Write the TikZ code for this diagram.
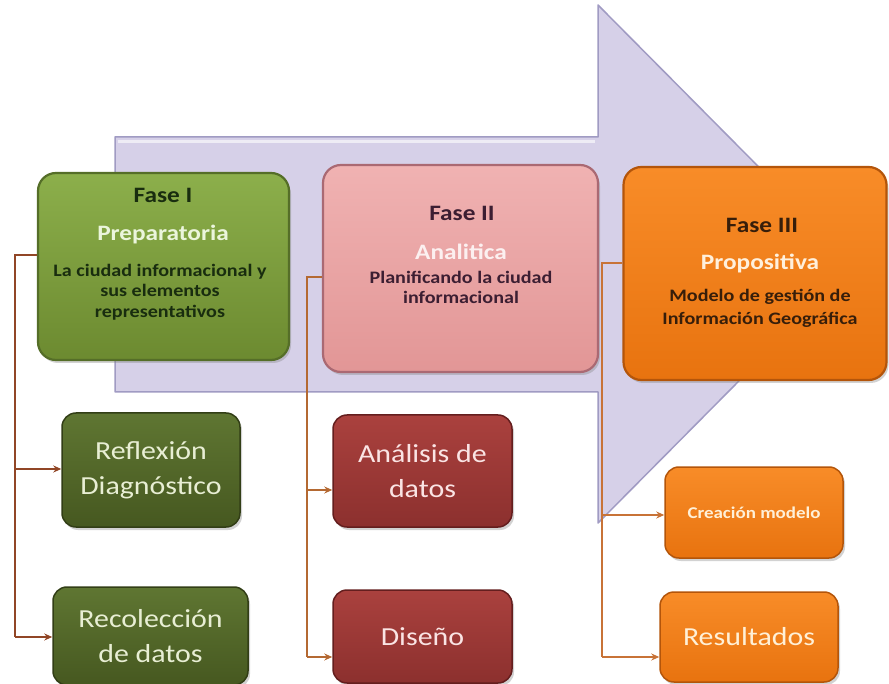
\documentclass[tikz,border=0pt]{standalone}
\usepackage{fontspec}
\setmainfont{Carlito}[FakeStretch=1.15]
\usetikzlibrary{shadows,arrows.meta}
\definecolor{arrowfill}{RGB}{214,208,232}
\definecolor{arrowedge}{RGB}{160,155,195}
\definecolor{gtop}{RGB}{140,175,75}
\definecolor{gbot}{RGB}{108,138,48}
\definecolor{gedge}{RGB}{85,110,40}
\definecolor{ptop}{RGB}{240,178,178}
\definecolor{pbot}{RGB}{226,150,150}
\definecolor{pedge}{RGB}{170,105,115}
\definecolor{otop}{RGB}{248,140,40}
\definecolor{obot}{RGB}{232,115,15}
\definecolor{oedge}{RGB}{180,85,10}
\definecolor{sgtop}{RGB}{95,118,50}
\definecolor{sgbot}{RGB}{70,88,32}
\definecolor{sgedge}{RGB}{50,62,22}
\definecolor{srtop}{RGB}{170,65,62}
\definecolor{srbot}{RGB}{140,48,46}
\definecolor{sredge}{RGB}{100,30,30}
\definecolor{connA}{RGB}{145,70,38}
\definecolor{connB}{RGB}{180,105,50}
\definecolor{connC}{RGB}{200,115,55}
\definecolor{tAdark}{RGB}{25,45,15}
\definecolor{tAlight}{RGB}{235,245,220}
\definecolor{tBdark}{RGB}{60,30,50}
\definecolor{tBlight}{RGB}{252,240,240}
\definecolor{tCdark}{RGB}{55,30,10}
\definecolor{tClight}{RGB}{255,240,220}
\definecolor{sgtext}{RGB}{232,238,212}
\definecolor{srtext}{RGB}{250,228,228}
\definecolor{sotext}{RGB}{255,240,215}
\begin{document}
\begin{tikzpicture}[x=1pt,y=-1pt,
  myshadow/.style={drop shadow={opacity=0.35,shadow xshift=2pt,shadow yshift=-3pt}},
  phase/.style={myshadow,rectangle,rounded corners=18pt,line width=2.2pt,inner sep=0pt},
  subbox/.style={myshadow,rectangle,rounded corners=14pt,line width=1.5pt,inner sep=0pt,align=center},
  greenph/.style={phase,draw=gedge,top color=gtop,bottom color=gbot},
  pinkph/.style={phase,draw=pedge,top color=ptop,bottom color=pbot},
  orangeph/.style={phase,draw=oedge,top color=otop,bottom color=obot},
  greensub/.style={subbox,draw=sgedge,top color=sgtop,bottom color=sgbot,text=sgtext},
  redsub/.style={subbox,draw=sredge,top color=srtop,bottom color=srbot,text=srtext},
  orangesub/.style={subbox,draw=oedge,top color=otop,bottom color=obot,text=sotext},
  headtxt/.style={font=\bfseries\fontsize{22}{24}\selectfont,inner sep=0pt},
  subtxt/.style={font=\bfseries\fontsize{17.5}{20.5}\selectfont,inner sep=0pt,align=center},
  bigtxt/.style={font=\fontsize{26}{35}\selectfont},
  conn/.style={line width=2.6pt,-{Stealth[length=8pt,width=7pt]}}
]
\useasboundingbox (0,0) rectangle (889,684);
\fill[white] (0,0) rectangle (889,684);

% big background arrow
\draw[fill=arrowfill,draw=arrowedge,line width=1.5pt,line join=round]
  (115,137) -- (598,137) -- (598,5) -- (855,264) -- (598,523) -- (598,392) -- (115,392) -- cycle;
\draw[white,opacity=0.6,line width=3pt] (118,142) -- (595,142);

% phase boxes
\node[greenph,minimum width=251pt,minimum height=187pt] (f1) at (163.5,266.5) {};
\node[pinkph,minimum width=275pt,minimum height=207pt] (f2) at (460.5,268.5) {};
\node[orangeph,minimum width=263pt,minimum height=213pt] (f3) at (755,273.5) {};

% bus coordinates
\coordinate (b1t) at (15,255);
\coordinate (b1m) at (15,469);
\coordinate (b1b) at (15,637);
\coordinate (b2t) at (307,277);
\coordinate (b2m) at (307,490);
\coordinate (b2b) at (307,657);
\coordinate (b3t) at (602,263);
\coordinate (b3m) at (602,515);
\coordinate (b3b) at (602,657);

% sub boxes
\node[greensub,bigtxt,minimum width=178pt,minimum height=114pt] (r1) at (151,470) {Reflexión\\Diagnóstico};
\node[greensub,bigtxt,minimum width=195pt,minimum height=98pt] (r2) at (150.5,636) {Recolección\\de datos};
\node[redsub,bigtxt,minimum width=179pt,minimum height=112pt] (a1) at (422.5,471) {Análisis de\\datos};
\node[redsub,bigtxt,minimum width=179pt,minimum height=93pt] (a2) at (422.5,636.5) {Diseño};
\node[orangesub,font=\bfseries\fontsize{16.5}{18}\selectfont,minimum width=178pt,minimum height=91pt] (c1) at (754,512.5) {Creación modelo};
\node[orangesub,bigtxt,minimum width=178pt,minimum height=90pt] (c2) at (749,637) {Resultados};

% connectors
\draw[conn,draw=connA,-] (f1.west |- b1t) -- (b1t) -- (b1b);
\draw[conn,draw=connA,fill=connA] (b1m) -- (r1.west |- b1m);
\draw[conn,draw=connA,fill=connA] (b1b) -- (r2.west |- b1b);
\draw[conn,draw=connB,-] (f2.west |- b2t) -- (b2t) -- (b2b);
\draw[conn,draw=connB,fill=connB] (b2m) -- (a1.west |- b2m);
\draw[conn,draw=connB,fill=connB] (b2b) -- (a2.west |- b2b);
\draw[conn,draw=connC,-] (f3.west |- b3t) -- (b3t) -- (b3b);
\draw[conn,draw=connC,fill=connC] (b3m) -- (c1.west |- b3m);
\draw[conn,draw=connC,fill=connC] (b3b) -- (c2.west |- b3b);

% texts of phase boxes
\node[headtxt,text=tAdark] (f1a) at (163,195) {Fase I};
\node[headtxt,text=tAlight] (f1b) at (163,235) {Preparatoria};
\node[subtxt,text=tAdark] (f1c) at (160,292) {La ciudad informacional y\\sus elementos\\representativos};
\node[headtxt,text=tBdark] (f2a) at (462,213) {Fase II};
\node[headtxt,text=tBlight] (f2b) at (461,252) {Analitica};
\node[subtxt,text=tBdark,font=\bfseries\fontsize{17.5}{19.5}\selectfont] (f2c) at (461,287.5) {Planificando la ciudad\\informacional};
\node[headtxt,text=tCdark] (f3a) at (762,225) {Fase III};
\node[headtxt,text=tClight] (f3b) at (760,263) {Propositiva};
\node[subtxt,text=tCdark,font=\bfseries\fontsize{17.5}{23}\selectfont] (f3c) at (760,308.5) {Modelo de gestión de\\Información Geográfica};
\end{tikzpicture}
\end{document}
